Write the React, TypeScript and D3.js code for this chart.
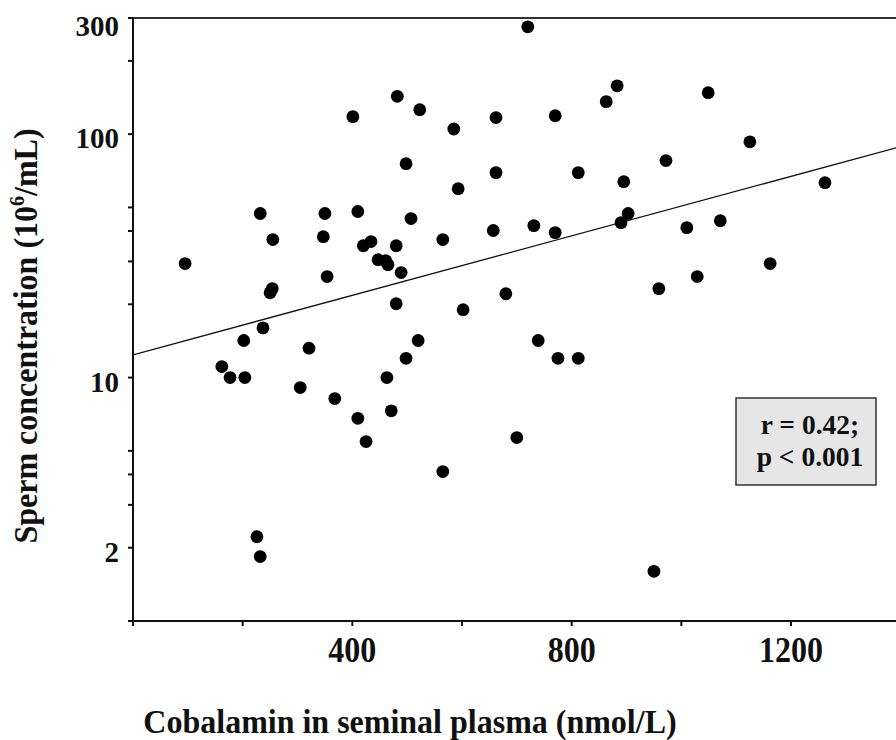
import React from "react";
import * as d3 from "d3";

// Cobalamin (nmol/L) and sperm concentration (10^6/mL)
const cobalamin = [
  720, 482, 523, 401, 662, 770, 863, 883, 1049, 585, 1125, 498, 662, 593, 812, 972, 895, 1262,
  232, 350, 410, 507, 903, 890, 1071, 1010, 731, 770, 657, 565, 420, 434, 480, 255, 347,
  95, 447, 461, 465, 489, 354, 1029, 1162, 959, 680, 254, 250, 480, 602, 237, 202, 321,
  520, 498, 739, 775, 812, 162, 177, 204, 305, 368, 463, 410, 471, 425, 700, 565, 950, 226, 232,
];
const spermConc = [
  276, 143, 126, 118, 117, 119, 136, 158, 148, 105, 93, 75.6, 69.5, 59.7, 69.5, 77.9, 63.8, 63.2,
  47.2, 47.2, 48.1, 45, 47.2, 43.3, 44.1, 41.3, 42.1, 39.4, 40.2, 36.9, 34.8, 36.2, 34.8, 36.9, 37.9,
  29.4, 30.5, 30.2, 29.1, 27, 26, 26, 29.4, 23.2, 22.1, 23.2, 22.3, 20.1, 19.0, 16.0, 14.2, 13.2,
  14.2, 12.0, 14.2, 12.0, 12.0, 11.1, 10, 10, 9.1, 8.2, 10, 6.8, 7.3, 5.46, 5.67, 4.11, 1.6, 2.22, 1.84,
];

const xTickValues = [0, 200, 400, 600, 800, 1000, 1200, 1400];
const xTickLabels = ["400", "800", "1200"];
const yTickValues = [300, 200, 100, 50, 40, 30, 20, 10, 5, 4, 3, 2, 1];
const yTickLabels = ["300", "100", "10", "2"];

// regression: log10(y) = a + b * x
const regIntercept = 1.0934;
const regSlope = 0.000611;
const regXRange = [0, 1450];

const statLines = ["r = 0.42;", "p < 0.001"];
const xTitle = "Cobalamin in seminal plasma (nmol/L)";

const FONT = '"Liberation Serif", "Times New Roman", Times, serif';

export default function App() {
  const W = 896;
  const H = 740;
  const left = 133;
  const top = 18;
  const bottom = 621;
  const right = 910;

  const x = d3.scaleLinear().domain([0, 1200]).range([left, 791]);
  const y = d3.scaleLog().domain([1, 300]).range([bottom, top]);

  const regPts: [number, number][] = regXRange.map((v) => [v, Math.pow(10, regIntercept + regSlope * v)]);
  const line = d3
    .line<[number, number]>()
    .x((d) => x(d[0]))
    .y((d) => y(d[1]));

  return (
    <svg
      width={W}
      height={H}
      style={{ position: "absolute", left: 0, top: 0, background: "#fff" }}
      fontFamily={FONT}
      fontWeight="bold"
    >
      <defs>
        <clipPath id="plotClip">
          <rect x={left} y={top} width={right - left} height={bottom - top} />
        </clipPath>
      </defs>
      {/* frame */}
      <line x1={left} x2={right} y1={top} y2={top} stroke="#333" strokeWidth={2} />
      <line x1={left} x2={left} y1={top} y2={bottom} stroke="#111" strokeWidth={2} />
      <line x1={left} x2={right} y1={bottom} y2={bottom} stroke="#111" strokeWidth={2} />

      {/* y ticks */}
      {yTickValues.map((v) => (
        <line key={"yt" + v} x1={left - 5} x2={left} y1={y(v)} y2={y(v)} stroke="#111" strokeWidth={2} />
      ))}
      {yTickLabels.map((s) => {
        const v = +s;
        const cy = Math.max(y(v) + 4, 26);
        return (
          <text key={"yl" + s} x={119} y={cy} textAnchor="end" dominantBaseline="central" fontSize={29} fill="#111">
            {s}
          </text>
        );
      })}

      {/* x ticks */}
      {xTickValues.map((v) => (
        <line key={"xt" + v} x1={x(v)} x2={x(v)} y1={bottom} y2={bottom + 5} stroke="#111" strokeWidth={2} />
      ))}
      {xTickLabels.map((s) => (
        <text
          key={"xl" + s}
          transform={`translate(${x(+s)}, 662) scale(1, 1.1)`}
          textAnchor="middle"
          fontSize={32}
          fill="#111"
        >
          {s}
        </text>
      ))}

      {/* regression line and points */}
      <g clipPath="url(#plotClip)">
        <path d={line(regPts) || ""} fill="none" stroke="#111" strokeWidth={1.3} />
        {cobalamin.map((cv, i) => (
          <circle key={"p" + i} cx={x(cv)} cy={y(spermConc[i])} r={6.4} fill="#000" />
        ))}
      </g>

      {/* stats box */}
      <rect x={736} y={398} width={140} height={87} fill="#e6e6e6" stroke="#333" strokeWidth={1.5} />
      {statLines.map((s, i) => (
        <text key={"st" + i} x={810} y={434 + i * 32} textAnchor="middle" fontSize={27.5} fill="#111">
          {s}
        </text>
      ))}

      {/* axis titles */}
      <text transform="translate(410, 733) scale(1, 1.08)" textAnchor="middle" fontSize={32} fill="#111">
        {xTitle}
      </text>
      <text
        transform={`translate(37, 336) rotate(-90) scale(1, 1.05)`}
        textAnchor="middle"
        fontSize={32}
        fill="#111"
      >
        Sperm concentration (10
        <tspan fontSize={20} dy={-12}>6</tspan>
        <tspan dy={12}>/mL)</tspan>
      </text>
    </svg>
  );
}
